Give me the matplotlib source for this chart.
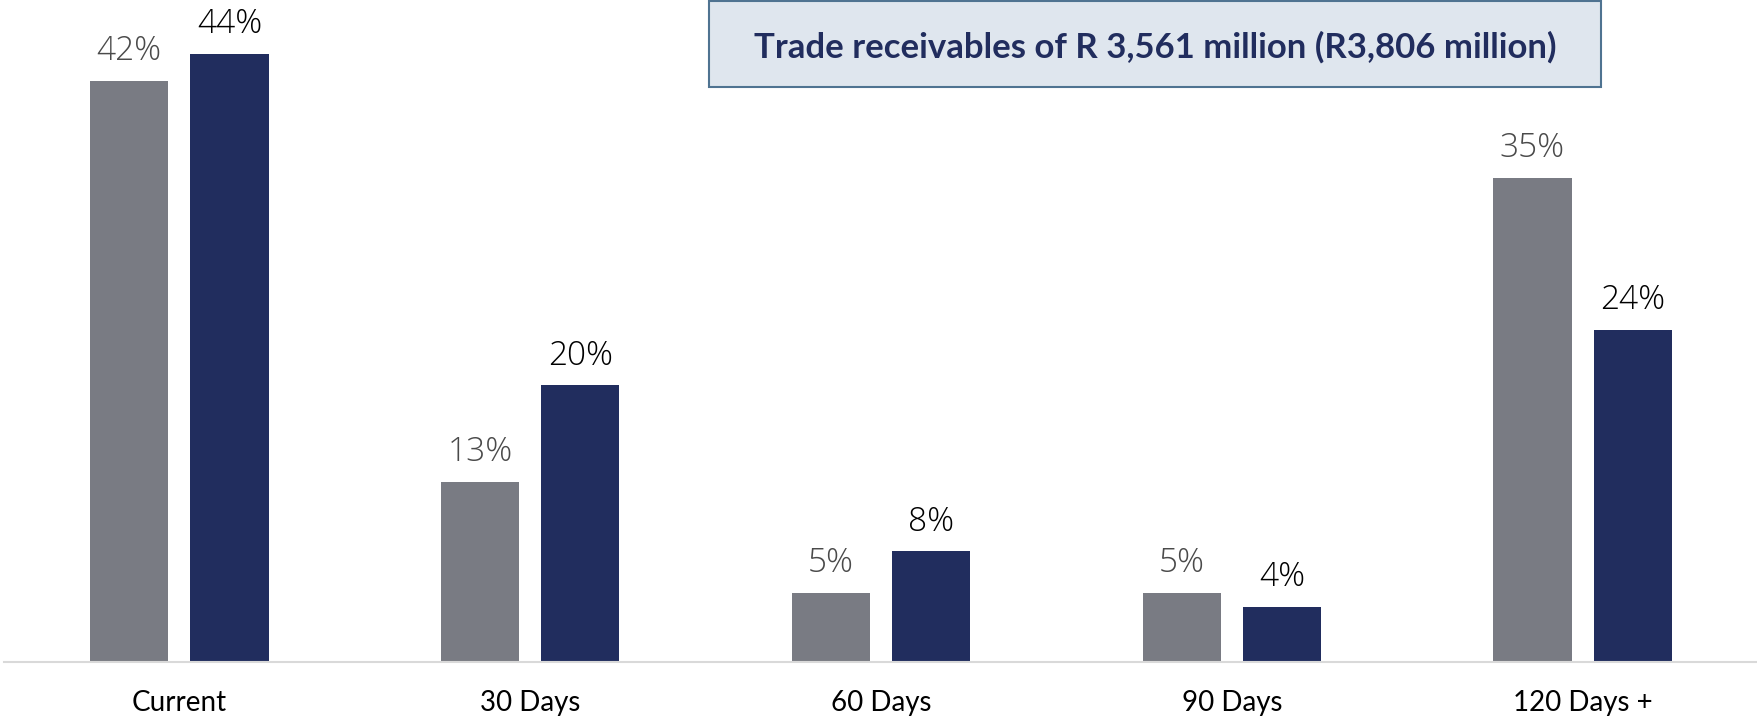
import numpy as np
import matplotlib
matplotlib.use("Agg")
import matplotlib.pyplot as plt
from matplotlib.patches import FancyBboxPatch

# data
categories = ["Current", "30 Days", "60 Days", "90 Days", "120 Days +"]
prior_pct = [42, 13, 5, 5, 35]     # grey bars
current_pct = [44, 20, 8, 4, 24]   # navy bars
title_text = "Trade receivables of R 3,561 million (R3,806 million)"

grey = "#797b83"
navy = "#212d5e"

plt.rcParams["font.family"] = ["Lato", "DejaVu Sans"]

fig = plt.figure(figsize=(17.58, 7.19), dpi=100)
ax = fig.add_axes([4 / 1758, 57 / 719, 1754 / 1758, 662 / 719])

x = np.arange(len(categories))
w = 0.223
off = 0.143
b1 = ax.bar(x - off, prior_pct, w, color=grey)
b2 = ax.bar(x + off, current_pct, w, color=navy)

lbl_font = ["Open Sans", "DejaVu Sans"]
for rect, v in zip(b1, prior_pct):
    ax.annotate(f"{v}%", (rect.get_x() + rect.get_width() / 2, v),
                xytext=(0, 15), textcoords="offset points",
                ha="center", va="baseline", fontsize=24, family=lbl_font,
                fontweight="light", color="#4a4a4a")
for rect, v in zip(b2, current_pct):
    ax.annotate(f"{v}%", (rect.get_x() + rect.get_width() / 2, v),
                xytext=(0, 15), textcoords="offset points",
                ha="center", va="baseline", fontsize=24, family=lbl_font,
                fontweight="light", color="#000000")

ax.set_xlim(-0.5, 4.5)
ax.set_ylim(0, 47.87)
ax.set_xticks(x)
ax.set_xticklabels(categories, fontsize=20, color="#000000")
ax.tick_params(axis="x", length=0, pad=20)
ax.set_yticks([])
for s in ["top", "left", "right"]:
    ax.spines[s].set_visible(False)
ax.spines["bottom"].set_color("#d9d9d9")
ax.spines["bottom"].set_linewidth(1.5)

# title box at top right
box = FancyBboxPatch((709 / 1758, 1 - 87 / 719), 892 / 1758, 86 / 719,
                     boxstyle="square,pad=0", transform=fig.transFigure,
                     facecolor="#dfe6ee", edgecolor="#4f7391", linewidth=1.5)
fig.patches.append(box)
fig.text(1155 / 1758, 1 - 47 / 719, title_text, ha="center", va="center",
         fontsize=25, fontweight="bold", color="#212d5e")

fig.savefig("out.png", dpi=100)
